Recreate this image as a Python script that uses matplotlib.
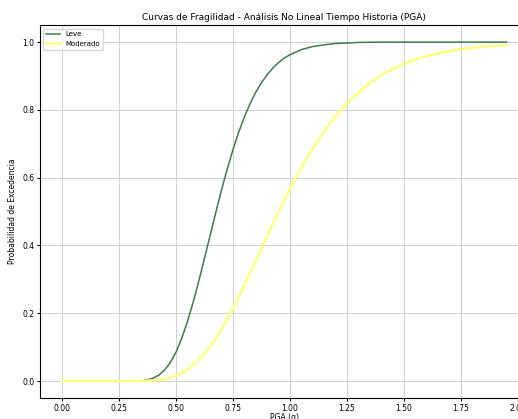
import matplotlib
matplotlib.use('Agg')
import matplotlib.pyplot as plt

# curvas (PGA en g, probabilidad de excedencia)
pga_leve = [0.00, 0.30, 0.35, 0.375, 0.40, 0.425, 0.45, 0.475, 0.50, 0.525, 0.55, 0.575,
            0.60, 0.625, 0.65, 0.675, 0.70, 0.725, 0.75, 0.775, 0.80, 0.825, 0.85, 0.875,
            0.90, 0.925, 0.95, 0.975, 1.00, 1.05, 1.10, 1.15, 1.20, 1.25, 1.30, 1.40,
            1.50, 1.95]
p_leve = [0.000, 0.000, 0.001, 0.004, 0.009, 0.018, 0.033, 0.055, 0.086, 0.127, 0.176, 0.233,
          0.296, 0.363, 0.432, 0.500, 0.566, 0.627, 0.684, 0.735, 0.780, 0.819, 0.853, 0.881,
          0.904, 0.924, 0.940, 0.953, 0.963, 0.978, 0.987, 0.992, 0.996, 0.997, 0.999, 1.000,
          1.000, 1.000]

pga_mod = [0.00, 0.30, 0.35, 0.375, 0.40, 0.425, 0.45, 0.475, 0.50, 0.525, 0.55, 0.575,
           0.60, 0.625, 0.65, 0.675, 0.70, 0.725, 0.75, 0.775, 0.80, 0.825, 0.85, 0.875,
           0.90, 0.925, 0.95, 0.975, 1.00, 1.05, 1.10, 1.15, 1.20, 1.25, 1.30, 1.35,
           1.40, 1.45, 1.50, 1.55, 1.60, 1.65, 1.70, 1.75, 1.80, 1.875, 1.95]
p_mod = [0.000, 0.000, 0.000, 0.001, 0.002, 0.004, 0.006, 0.010, 0.016, 0.024, 0.034, 0.047,
         0.063, 0.081, 0.103, 0.127, 0.154, 0.184, 0.215, 0.249, 0.283, 0.319, 0.355, 0.392,
         0.428, 0.465, 0.500, 0.535, 0.568, 0.631, 0.687, 0.738, 0.782, 0.820, 0.852, 0.879,
         0.902, 0.921, 0.936, 0.949, 0.959, 0.967, 0.974, 0.979, 0.983, 0.988, 0.992]

fig = plt.figure(figsize=(5.18, 4.19), dpi=100)
ax = fig.add_axes([0.077, 0.050, 0.944, 0.890])

ax.plot(pga_leve, p_leve, color='#3d7d4a', lw=1.1, label='Leve')
ax.plot(pga_mod, p_mod, color='#ffff80', lw=1.8, label='Moderado')

ax.set_xticks([0.0, 0.25, 0.5, 0.75, 1.0, 1.25, 1.5, 1.75, 2.0])
ax.set_yticks([0.0, 0.2, 0.4, 0.6, 0.8, 1.0])
ax.tick_params(labelsize=5.5, length=2.5, pad=1.5)
ax.set_xlabel('PGA (g)', fontsize=5.5, labelpad=0.5)
ax.set_ylabel('Probabilidad de Excedencia', fontsize=5.5)
ax.set_title('Curvas de Fragilidad - Análisis No Lineal Tiempo Historia (PGA)', fontsize=6.5, pad=4)
ax.grid(True, color='#d0d0d0', lw=0.7)
ax.legend(loc='upper left', fontsize=5, frameon=True)

plt.savefig('out.png', dpi=100)
